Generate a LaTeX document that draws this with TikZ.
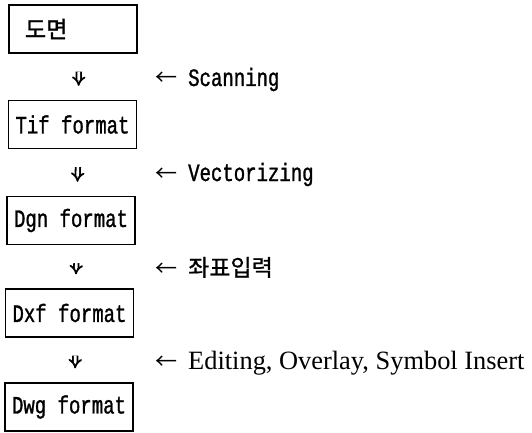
\documentclass[tikz,border=0pt]{standalone}
\usepackage{fontspec}
\setmainfont{Liberation Serif}
\newfontfamily\monof[FakeStretch=0.76,FakeBold=1.2]{Liberation Mono}
\newfontfamily\kof[FakeBold=0.8]{Noto Sans CJK KR}
\newfontfamily\kofb[FakeBold=1.6]{Noto Sans CJK KR}
\newfontfamily\arrf{Noto Sans CJK KR}
\usetikzlibrary{arrows.meta}
\newcommand{\larr}{\makebox[33pt][l]{\arrf\fontsize{22}{22}\selectfont ←}}
\begin{document}
\begin{tikzpicture}[x=1pt,y=-1pt,
  box/.style={draw, line width=1.3pt, minimum width=128pt, minimum height=48pt, inner sep=0pt,
    font=\monof\fontsize{25}{25}\selectfont},
  dn/.style={double, double distance=2.6pt, line width=1.8pt, -{Implies}, shorten <=18pt, shorten >=14pt},
  lbl/.style={anchor=base west, inner sep=0pt, font=\monof\fontsize{25}{25}\selectfont}]
\useasboundingbox (0,0) rectangle (532,433);
\node[box] (b1) at (73,29) {\makebox[96pt][l]{\kofb\fontsize{23}{23}\selectfont 도면}};
\node[box] (b2) at (72.5,124.5) {Tif format};
\node[box] (b3) at (71,220.5) {Dgn format};
\node[box] (b4) at (69.5,313) {Dxf format};
\node[box] (b5) at (69,407) {Dwg format};
\draw[dn] ([xshift=6pt]b1.south) -- ([xshift=6pt]b2.north);
\draw[dn] ([xshift=6pt]b2.south) -- ([xshift=6pt]b3.north);
\draw[dn] ([xshift=6pt]b3.south) -- ([xshift=6pt]b4.north);
\draw[dn] ([xshift=6pt]b4.south) -- ([xshift=6pt]b5.north);
\node[lbl] (l1) at (155,86) {\larr Scanning};
\node[lbl] (l2) at (155,181) {\larr Vectorizing};
\node[lbl] (l3) at (155,276) {\larr{\kof\fontsize{23}{23}\selectfont 좌표입력}};
\node[lbl, font=\fontsize{26.4}{26.4}\selectfont] (l4) at (155,369) {\larr Editing, Overlay, Symbol Insert};
\end{tikzpicture}
\end{document}
